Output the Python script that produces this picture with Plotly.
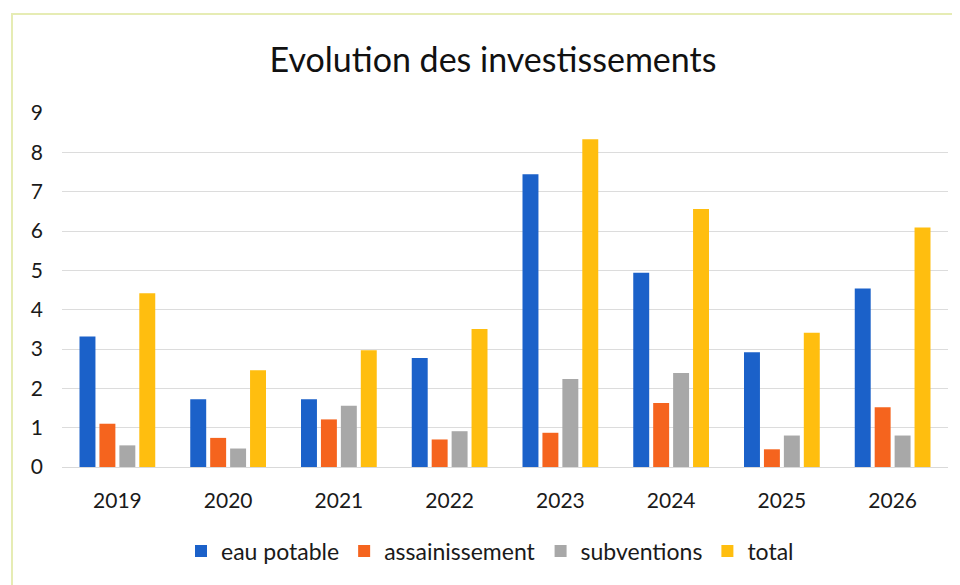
import plotly.graph_objects as go

years = ["2019", "2020", "2021", "2022", "2023", "2024", "2025", "2026"]
eau_potable = [3.32, 1.72, 1.72, 2.77, 7.44, 4.94, 2.92, 4.54]
assainissement = [1.10, 0.74, 1.21, 0.70, 0.87, 1.63, 0.45, 1.52]
subventions = [0.55, 0.47, 1.56, 0.91, 2.24, 2.39, 0.80, 0.80]
total = [4.42, 2.46, 2.97, 3.51, 8.33, 6.56, 3.41, 6.09]
y_ticks = [0, 1, 2, 3, 4, 5, 6, 7, 8, 9]

series = [
    ("eau potable", eau_potable, "#1b61c9"),
    ("assainissement", assainissement, "#f5641e"),
    ("subventions", subventions, "#a8a8a8"),
    ("total", total, "#ffbe0f"),
]

FONT = "Lato"

fig = go.Figure()
for name, vals, col in series:
    fig.add_trace(go.Bar(x=years, y=vals, name=name, marker=dict(color=col, line=dict(width=0))))

# the page body adds an 8px offset; work in reference pixels and shift
OFF = 8
W, H = 960 - OFF, 585 - OFF
L, R, T, B = 62 - OFF, 12, 113 - OFF, 118
pw, ph = W - L - R, H - T - B

def px_x(px):
    return (px - OFF - L) / pw

def px_y(py):
    return (H - B - (py - OFF)) / ph

fig.update_layout(
    width=W, height=H,
    margin=dict(l=L, r=R, t=T, b=B),
    paper_bgcolor="white", plot_bgcolor="white",
    barmode="group", bargap=0.28, bargroupgap=0.2,
    font=dict(family=FONT, color="#1a1a1a", size=21),
    title=dict(text="Evolution des investissements", x=(493 - OFF) / W, xanchor="center",
               y=1 - (60 - OFF) / H, yanchor="middle", yref="container",
               font=dict(family=FONT, size=34, color="#111111")),
    legend=dict(orientation="h", x=px_x(490), xanchor="center", y=px_y(551), yanchor="middle",
                font=dict(family=FONT, size=23, color="#1a1a1a"),
                traceorder="normal"),
    xaxis=dict(showgrid=False, showline=True, linecolor="#d9d9d9", linewidth=1,
               ticks="", ticklabelstandoff=15, tickfont=dict(size=21)),
    yaxis=dict(range=[0, 9], tickvals=y_ticks, showgrid=True, gridcolor="#dcdcdc", gridwidth=1,
               zeroline=False, showline=False, ticks="", ticklabelstandoff=18,
               tickfont=dict(size=21)),
    shapes=[dict(type="rect", xref="paper", yref="paper",
                 x0=px_x(12), x1=px_x(975), y0=px_y(600), y1=px_y(14),
                 line=dict(color="#e6ecb4", width=2), fillcolor="rgba(0,0,0,0)", layer="below")],
)

fig.write_html("out.html")
